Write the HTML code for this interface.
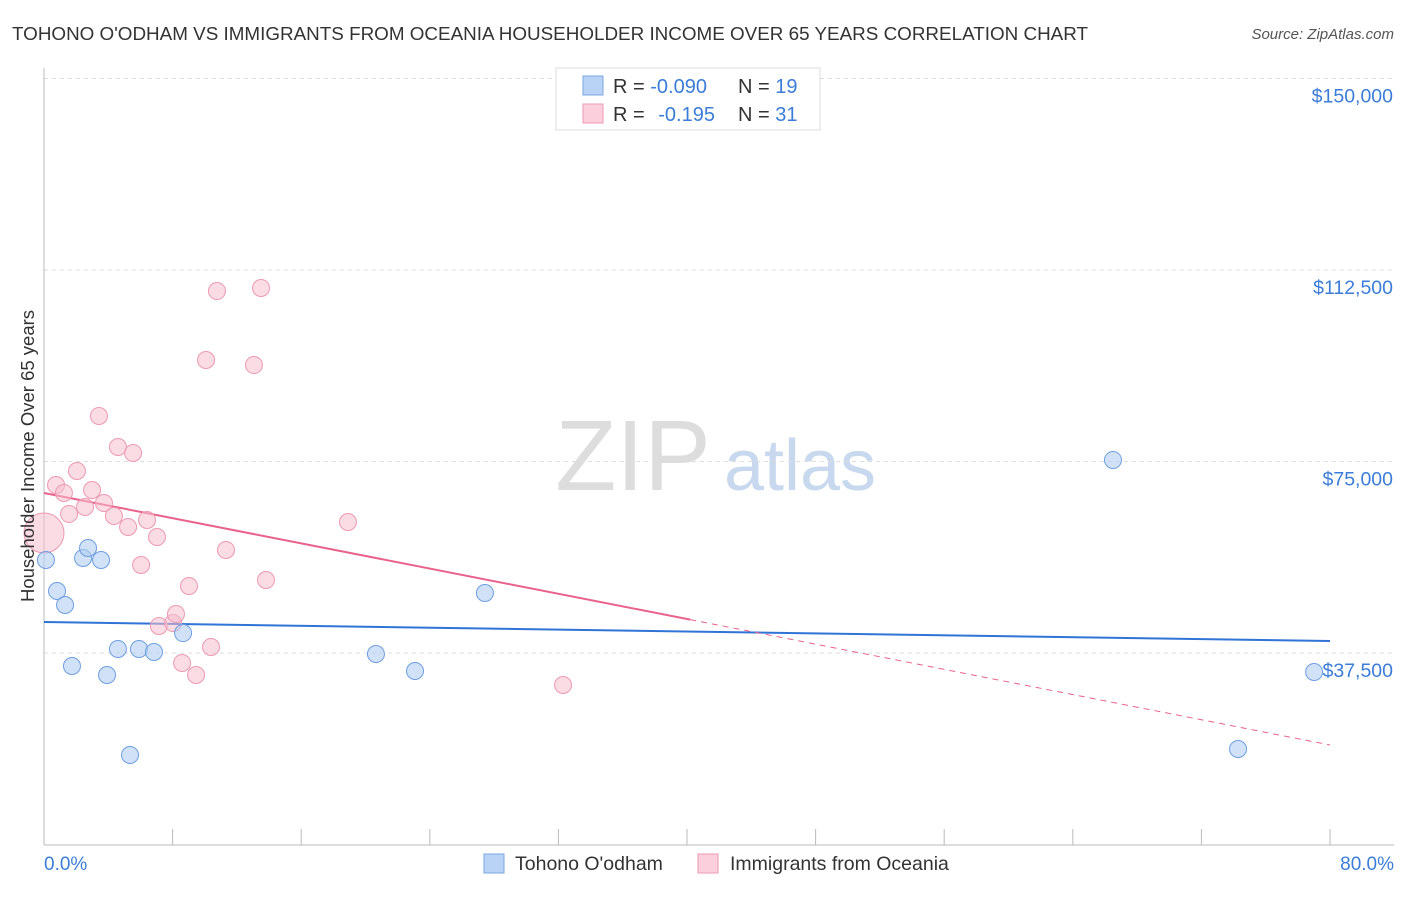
<!DOCTYPE html>
<html><head><meta charset="utf-8">
<style>
body{margin:0;background:#fff;font-family:"Liberation Sans",sans-serif;}
svg text{font-family:"Liberation Sans",sans-serif;}
</style></head>
<body>
<svg id="chart" width="1406" height="892" viewBox="0 0 1406 892" xmlns="http://www.w3.org/2000/svg">
<text x="12" y="40" font-size="18" fill="#333" textLength="1076" lengthAdjust="spacingAndGlyphs">TOHONO O'ODHAM VS IMMIGRANTS FROM OCEANIA HOUSEHOLDER INCOME OVER 65 YEARS CORRELATION CHART</text>
<text x="1394" y="39" font-size="15" fill="#555" font-style="italic" text-anchor="end">Source: ZipAtlas.com</text>
<g>
<text x="633" y="490" font-size="100" fill="#ddd" font-family="Liberation Serif,serif" text-anchor="middle">ZIP</text>
<text x="800" y="490" font-size="72" fill="#c8d8ee" text-anchor="middle">atlas</text>
</g>
<g id="grid"></g>
<g id="axes"></g>
<g id="trends"></g>
<g id="points"></g>
<text transform="translate(34,456) rotate(-90)" font-size="18.5" fill="#333" text-anchor="middle">Householder Income Over 65 years</text>
<text x="44" y="870" font-size="19" fill="#3b7dd8">0.0%</text>
<text x="1394" y="870" font-size="19" fill="#3b7dd8" text-anchor="end">80.0%</text>
<g>
<rect x="556" y="68" width="264" height="62" fill="#fff" stroke="#ddd"/>
<rect x="583" y="76" width="20" height="19" fill="#b8d3f5" stroke="#7aa6e0"/>
<rect x="583" y="104" width="20" height="19" fill="#fbd0dc" stroke="#ec9ab2"/>
<text x="613" y="93" font-size="20" fill="#333">R = <tspan fill="#3b7dd8">-0.090</tspan></text>
<text x="738" y="93" font-size="20" fill="#333">N = <tspan fill="#3b7dd8">19</tspan></text>
<text x="613" y="121" font-size="20" fill="#333">R = <tspan fill="#3b7dd8" dx="8">-0.195</tspan></text>
<text x="738" y="121" font-size="20" fill="#333">N = <tspan fill="#3b7dd8">31</tspan></text>
</g>
<g>
<rect x="484" y="854" width="20" height="19" fill="#b8d3f5" stroke="#7aa6e0"/>
<text x="515" y="870" font-size="19.5" fill="#333">Tohono O'odham</text>
<rect x="698" y="854" width="20" height="19" fill="#fbd0dc" stroke="#ec9ab2"/>
<text x="730" y="870" font-size="19.5" fill="#333">Immigrants from Oceania</text>
</g>
</svg>
<script>
const yTicks=[37500,75000,112500,150000];
const yTickLabels=["$37,500","$75,000","$112,500","$150,000"];
const blueX=[0.12,0.81,1.31,1.74,2.43,2.74,3.55,3.92,4.60,5.35,5.91,6.84,8.65,20.65,23.08,27.43,66.50,74.28,79.01];
const blueY=[55710,49640,46900,34950,56100,58060,55710,33190,38280,17530,38280,37690,41410,37300,33970,49250,75300,18700,33780];
const pinkX=[0,0.75,1.24,1.56,2.05,2.55,2.99,3.42,3.73,4.35,4.60,5.23,5.54,6.04,6.41,7.03,7.15,8.03,8.21,8.59,9.02,9.46,10.08,10.39,10.76,11.32,13.06,13.50,13.81,18.91,32.29];
const pinkY=[61000,70400,68840,64730,73140,66090,69420,83910,66880,64330,77840,62170,76670,54730,63540,60220,42790,43380,45140,35550,50620,33190,94870,38670,108380,57670,93890,108970,51790,63150,31230];
const blueTrend=[43570,39850];
const pinkTrend=[68840,19490];
const pinkSolidEnd=40.2;
const NS="http://www.w3.org/2000/svg";
const X=v=>44+v/80*1286;
const Y=v=>844.5-v/37500*191.5;
function mk(tag,attrs,parent){const e=document.createElementNS(NS,tag);for(const k in attrs)e.setAttribute(k,attrs[k]);parent.appendChild(e);return e;}
const grid=document.getElementById('grid'),axes=document.getElementById('axes'),tr=document.getElementById('trends'),pts=document.getElementById('points');
yTicks.forEach((t,i)=>{
 const l=mk('line',{x1:44,x2:1394,y1:Y(t),y2:Y(t),stroke:'#ddd','stroke-dasharray':'4,4'},grid);
 
 
 const tx=mk('text',{x:1393,y:Y(t)+24,'font-size':19.5,fill:'#3b7dd8','text-anchor':'end'},grid);
 tx.textContent=yTickLabels[i];
 
 
});
const ax=mk('line',{x1:44,x2:44,y1:68,y2:845,stroke:'#bbb'},axes);


const bx=mk('line',{x1:44,x2:1394,y1:845,y2:845,stroke:'#bbb'},axes);


for(let i=0;i<=10;i++){
 const t=mk('line',{x1:X(i*8),x2:X(i*8),y1:829,y2:845,stroke:'#bbb'},axes);
 
 
}
function slope(tr2){return (tr2[1]-tr2[0])/80;}
const bl=mk('line',{x1:X(0),y1:Y(blueTrend[0]),x2:X(80),y2:Y(blueTrend[1]),stroke:'#2f74d6','stroke-width':2},tr);


const pEnd=pinkTrend[0]+slope(pinkTrend)*pinkSolidEnd;
const pl=mk('line',{x1:X(0),y1:Y(pinkTrend[0]),x2:X(pinkSolidEnd),y2:Y(pEnd),stroke:'#e8628b','stroke-width':2},tr);


const pd=mk('line',{x1:X(pinkSolidEnd),y1:Y(pEnd),x2:X(80),y2:Y(pinkTrend[1]),stroke:'#e8628b','stroke-width':1,'stroke-dasharray':'6,5'},tr);


pinkX.forEach((x,i)=>{
 const c=mk('circle',{cx:X(x),cy:Y(pinkY[i]),r:i===0?20:8.5,fill:'rgba(248,190,206,0.55)',stroke:'#ec9ab2','stroke-width':1},pts);
 
 
});
blueX.forEach((x,i)=>{
 const c=mk('circle',{cx:X(x),cy:Y(blueY[i]),r:8.5,fill:'rgba(176,205,243,0.6)',stroke:'#6f9fe0','stroke-width':1},pts);
 
 
});
</script>
</body></html>
